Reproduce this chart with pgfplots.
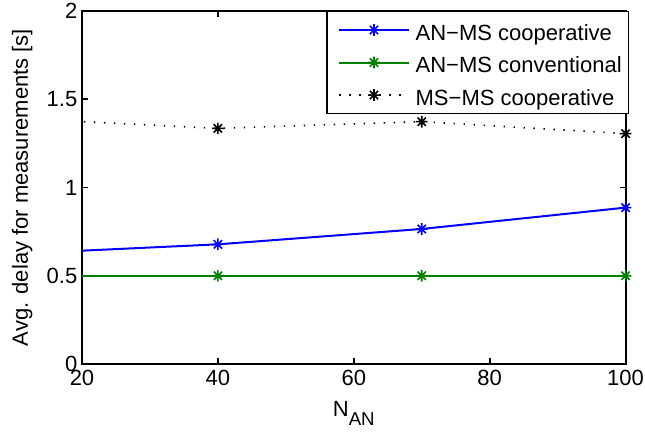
\documentclass[border=0pt]{standalone}
\usepackage{fontspec}
\setmainfont{Liberation Sans}
\usepackage{pgfplots}
\pgfplotsset{compat=1.18}
\definecolor{mblue}{rgb}{0,0,1}
\definecolor{mgreen}{rgb}{0,0.5,0}
\pgfdeclareplotmark{mstar}{%
  \pgfpathmoveto{\pgfqpoint{-\pgfplotmarksize}{0pt}}\pgfpathlineto{\pgfqpoint{\pgfplotmarksize}{0pt}}%
  \pgfpathmoveto{\pgfqpoint{0pt}{-\pgfplotmarksize}}\pgfpathlineto{\pgfqpoint{0pt}{\pgfplotmarksize}}%
  \pgfpathmoveto{\pgfqpoint{-0.707\pgfplotmarksize}{-0.707\pgfplotmarksize}}\pgfpathlineto{\pgfqpoint{0.707\pgfplotmarksize}{0.707\pgfplotmarksize}}%
  \pgfpathmoveto{\pgfqpoint{-0.707\pgfplotmarksize}{0.707\pgfplotmarksize}}\pgfpathlineto{\pgfqpoint{0.707\pgfplotmarksize}{-0.707\pgfplotmarksize}}%
  \pgfusepathqstroke}
\begin{document}
\begin{tikzpicture}
\useasboundingbox (-61.5pt,-55.5pt) rectangle (422.25pt,273pt);
\begin{axis}[
  at={(0,0)}, anchor=south west,
  scale only axis, width=407.7pt, height=264.75pt,
  xmin=20, xmax=100, ymin=0, ymax=2,
  xtick={20,40,60,80,100}, ytick={0,0.5,1,1.5,2},
  tick align=inside, major tick length=4.5pt,
  xtick pos=both, ytick pos=both,
  axis line style={line width=1.6pt},
  every tick/.style={line width=1.3pt, black},
  font=\fontsize{16.5}{19}\selectfont,
  /pgf/number format/assume math mode=true,
  ticklabel style={font=\fontsize{16.5}{19}\selectfont},
  yticklabel style={anchor=east, xshift=0pt},
  xticklabel style={anchor=north, yshift=-1pt},
  xlabel={N\raisebox{-6.75pt}{\fontsize{14}{16}\selectfont AN}},
  xlabel style={at={(axis description cs:0.5,0)}, anchor=base, yshift=-39.75pt},
  ylabel={Avg. delay for measurements [s]},
  ylabel style={at={(axis description cs:-0.110,0.5)}, anchor=center, rotate=0},
  legend image code/.code={\path (-5.5pt,0pt); \draw[mark repeat=2,mark phase=2] plot coordinates {(0pt,0pt) (26pt,0pt) (52pt,0pt)};},
  legend style={at={(1,1)}, anchor=north east, xshift=2.6pt, draw=black, line width=1pt, fill=white,
    font=\fontsize{16.5}{19}\selectfont, inner xsep=3pt, inner ysep=1.55pt, row sep=0pt,
    nodes={inner sep=2pt, text height=17.95pt, text depth=2.45pt},
    /tikz/every odd column/.style={column sep=2.5pt}},
  legend cell align=left,
  mark size=4.4pt,
]
\addplot[mblue, line width=1.5pt, mark=mstar, mark options={solid, line width=1.2pt}] coordinates {(10,0.624) (40,0.678) (70,0.765) (100,0.886)};
\addlegendentry{AN−MS cooperative}
\addplot[mgreen, line width=1.5pt, mark=mstar, mark options={solid, line width=1.2pt}] coordinates {(10,0.5) (40,0.5) (70,0.5) (100,0.5)};
\addlegendentry{AN−MS conventional}
\addplot[black, line width=1.2pt, dash pattern=on 1pt off 6.5pt, mark=mstar, mark options={solid, line width=1.2pt}] coordinates {(10,1.392) (40,1.335) (70,1.373) (100,1.305)};
\addlegendentry{MS−MS cooperative}
\end{axis}
\end{tikzpicture}
\end{document}
